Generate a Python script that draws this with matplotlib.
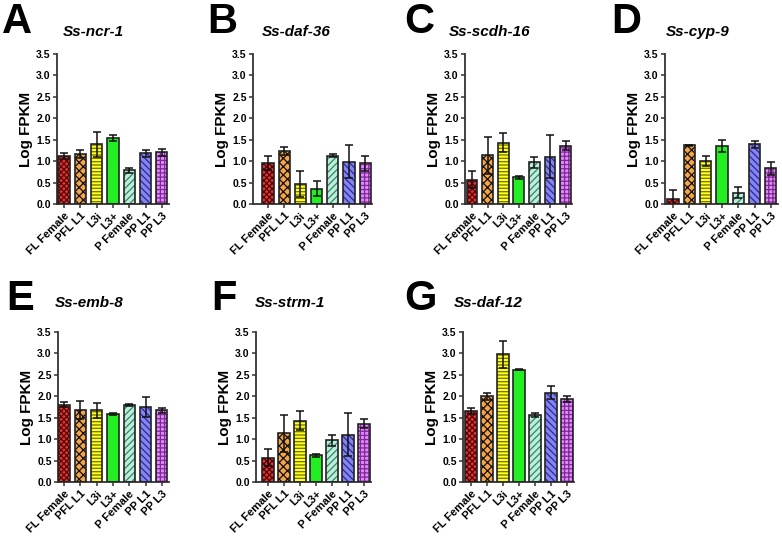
import matplotlib
matplotlib.use("Agg")
from matplotlib import pyplot as plt

plt.rcParams["font.family"] = ["Liberation Sans", "DejaVu Sans"]
plt.rcParams["font.weight"] = "bold"
plt.rcParams["hatch.linewidth"] = 0.9

# sample groups (x categories)
groups = ["FL Female", "PFL L1", "L3i", "L3+", "P Female", "PP L1", "PP L3"]

# log FPKM means and error (one list per gene)
ncr1 = [1.12, 1.16, 1.39, 1.55, 0.79, 1.18, 1.21]
ncr1_err = [0.06, 0.09, 0.30, 0.07, 0.06, 0.09, 0.08]
daf36 = [0.95, 1.24, 0.47, 0.36, 1.13, 0.99, 0.95]
daf36_err = [0.16, 0.10, 0.30, 0.18, 0.04, 0.38, 0.18]
scdh16 = [0.57, 1.14, 1.43, 0.62, 0.97, 1.10, 1.36]
scdh16_err = [0.20, 0.43, 0.22, 0.04, 0.13, 0.50, 0.10]
cyp9 = [0.12, 1.37, 1.01, 1.36, 0.26, 1.39, 0.83]
cyp9_err = [0.21, 0.01, 0.12, 0.14, 0.13, 0.08, 0.16]
emb8 = [1.80, 1.67, 1.67, 1.59, 1.79, 1.75, 1.67]
emb8_err = [0.06, 0.21, 0.17, 0.02, 0.02, 0.23, 0.06]
strm1 = [0.57, 1.14, 1.43, 0.62, 0.97, 1.10, 1.36]
strm1_err = [0.20, 0.43, 0.22, 0.04, 0.13, 0.50, 0.10]
daf12 = [1.66, 2.00, 2.98, 2.62, 1.56, 2.08, 1.94]
daf12_err = [0.07, 0.08, 0.31, 0.01, 0.04, 0.15, 0.07]

genes = ["Ss-ncr-1", "Ss-daf-36", "Ss-scdh-16", "Ss-cyp-9",
         "Ss-emb-8", "Ss-strm-1", "Ss-daf-12"]
letters = ["A", "B", "C", "D", "E", "F", "G"]
all_vals = [ncr1, daf36, scdh16, cyp9, emb8, strm1, daf12]
all_errs = [ncr1_err, daf36_err, scdh16_err, cyp9_err, emb8_err, strm1_err, daf12_err]

# bar styling
face_colors = ["#d83838", "#f5a548", "#ffff20", "#22ee22", "#b4f2da", "#8484f2", "#e488ff"]
hatch_colors = ["#5a0000", "#101010", "#707000", "#22ee22", "#4a7a68", "#2a2a90", "#7a2a90"]
hatches = ["xxxxxx", "xxxx", "-----", "", "/////", "\\\\\\\\\\", "++++"]

W, H = 782, 542
fig = plt.figure(figsize=(W / 100, H / 100), dpi=100)

# panel layout in pixels: axes left, axes top, first bar center, bar spacing
panels = [
    (57, 54, 64, 16.3), (253, 54, 268, 16.2), (465, 54, 472, 15.6), (665, 54, 673, 16.3),
    (58, 332, 64, 16.3), (256, 332, 268, 16.0), (463, 332, 471, 16.0),
]
title_pos = [(93, 32), (296, 32), (490, 32), (698, 32), (89, 303), (290, 303), (488, 303)]
letter_pos = [(2, 22), (207, 22), (404, 22), (611, 22), (6, 299), (211, 299), (404, 299)]
ax_h = 150

x = list(range(len(groups)))
for i in range(7):
    left, top, first, sp = panels[i]
    x0 = -(first - left) / sp
    x1 = 6.42
    ax_w = (x1 - x0) * sp
    ax = fig.add_axes([left / W, 1 - (top + ax_h) / H, ax_w / W, ax_h / H])

    ax.bar(x, all_vals[i], width=0.69, color=face_colors, linewidth=0, zorder=2)
    for j in range(7):
        ax.bar(x[j], all_vals[i][j], width=0.69, color="none",
               edgecolor=hatch_colors[j], hatch=hatches[j], linewidth=0, zorder=3)
    ax.bar(x, all_vals[i], width=0.69, color="none", edgecolor="#222222",
           linewidth=1.2, zorder=4)
    ax.errorbar(x, all_vals[i], yerr=all_errs[i], fmt="none", ecolor="#111111",
                elinewidth=1.1, capsize=2.8, capthick=1.1, zorder=5)

    ax.set_xlim(x0, x1)
    ax.set_ylim(0, 3.5)
    ax.set_yticks([0, 0.5, 1.0, 1.5, 2.0, 2.5, 3.0, 3.5])
    ax.set_yticklabels(["0.0", "0.5", "1.0", "1.5", "2.0", "2.5", "3.0", "3.5"],
                       fontsize=7.5, fontweight="bold")
    ax.set_xticks(x)
    ax.set_xticklabels(groups, fontsize=8, fontweight="bold", rotation=45,
                       ha="right", rotation_mode="anchor")
    ax.tick_params(axis="both", length=3, width=1.1, color="#333333", pad=1.5)
    ax.tick_params(axis="x", pad=2)
    ax.spines["top"].set_visible(False)
    ax.spines["right"].set_visible(False)
    ax.spines["left"].set_linewidth(1.3)
    ax.spines["bottom"].set_linewidth(1.3)
    ax.spines["left"].set_color("#333333")
    ax.spines["bottom"].set_color("#333333")
    ax.set_ylabel("Log FPKM", fontsize=11, fontweight="bold", labelpad=2)

    tx, ty = title_pos[i]
    fig.text(tx / W, 1 - ty / H, genes[i], fontsize=11, fontweight="bold",
             style="italic", ha="center", va="center")
    lx, ly = letter_pos[i]
    fig.text(lx / W, 1 - ly / H, letters[i], fontsize=30, fontweight="bold",
             ha="left", va="center")

plt.savefig("out.png", dpi=100)
plt.close()
